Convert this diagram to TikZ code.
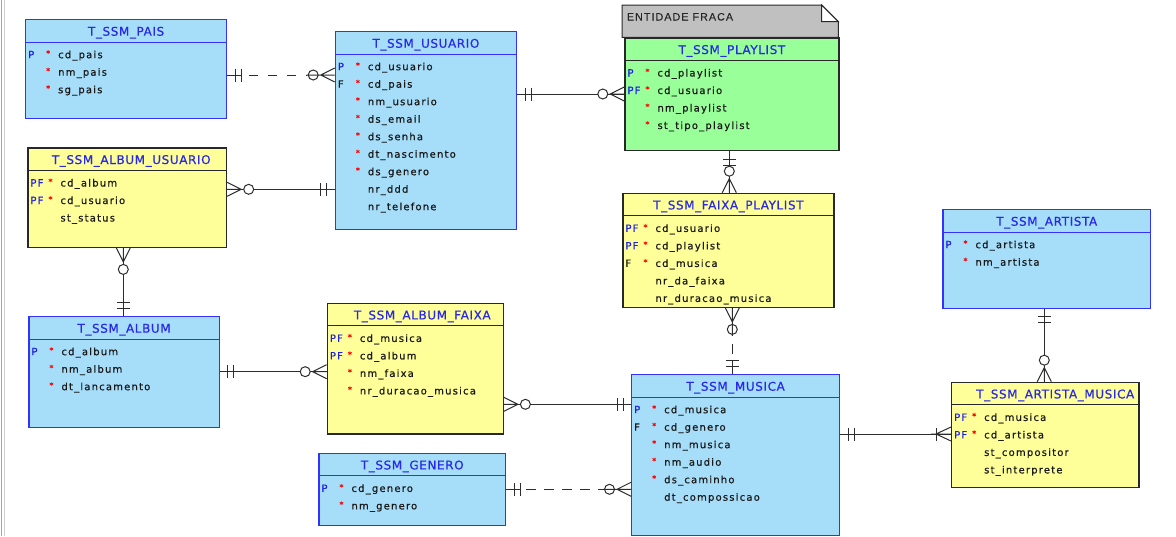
\documentclass[tikz,border=0pt]{standalone}
\usepackage{fontspec}
\usetikzlibrary{calc}
\newfontfamily\attrfont[LetterSpace=12,FakeBold=0.6]{DejaVu Sans}
\newfontfamily\titlefont[LetterSpace=5,FakeBold=0.5]{DejaVu Sans}
\newfontfamily\notefont[LetterSpace=10,FakeBold=0.3]{Liberation Sans}
\definecolor{entblue}{RGB}{166,222,250}
\definecolor{entblueline}{RGB}{50,50,255}
\definecolor{entyellow}{RGB}{255,255,153}
\definecolor{entgreen}{RGB}{153,255,153}
\definecolor{entdark}{RGB}{40,40,40}
\definecolor{titleblue}{RGB}{40,40,230}
\definecolor{keyblue}{RGB}{30,30,230}
\definecolor{notegrey}{RGB}{192,192,192}
\definecolor{txt}{RGB}{25,25,25}
\definecolor{linec}{RGB}{45,45,45}
\newcommand\kb[1]{{\color{keyblue}#1}}
\tikzset{
  eblue/.style={draw=entblueline, fill=entblue, line width=1.2pt, inner sep=0pt},
  eblue sep/.style={draw=entblueline, line width=1pt},
  eyellow/.style={draw=entdark, fill=entyellow, line width=1.2pt, inner sep=0pt},
  eyellow sep/.style={draw=entdark, line width=1pt},
  egreen/.style={draw=entdark, fill=entgreen, line width=1.2pt, inner sep=0pt},
  egreen sep/.style={draw=entdark, line width=1pt},
  titletext/.style={font=\titlefont\fontsize{12}{14}\selectfont, text=titleblue, inner sep=0pt, anchor=base},
  attrtext/.style={font=\attrfont\fontsize{10}{12}\selectfont, text=txt, inner sep=0pt, anchor=base west},
  startext/.style={font=\attrfont\fontsize{8}{10}\selectfont, text=red, inner sep=0pt, anchor=base west},
  notetext/.style={font=\notefont\fontsize{10.7}{12}\selectfont, text=black!85, inner sep=0pt, anchor=base west},
  conn/.style={draw=linec, line width=1pt},
  dashconn/.style={draw=linec, line width=1pt, dash pattern=on 9pt off 10pt, dash phase=11pt},
  pics/mandone/.style={code={
    \draw[conn] (0,0) -- (14,0);
    \draw[conn] (8,-6.5) -- (8,6.5) (14,-6.5) -- (14,6.5);
  }},
  pics/zm/.style={code={
    \draw[conn] (0,-7) -- (14,0) -- (0,7) (0,0) -- (14,0);
    \draw[conn, fill=white] (21.5,0) circle[radius=5];
  }},
  pics/zmd/.style={code={
    \draw[conn] (0,-7) -- (14,0) -- (0,7) (0,0) -- (28,0);
    \draw[conn] (21.5,0) circle[radius=5];
  }},
  pics/onemany/.style={code={
    \draw[conn] (0,-7) -- (15,0) -- (0,7) (0,0) -- (20,0);
    \draw[conn] (15,-6.5) -- (15,6.5);
  }},
}
% name, x1, y1, x2, y2, style, title, title dx
\newcommand\ent[8]{%
  \node[#6, anchor=north west, minimum width={#4-#2}, minimum height={#5-#3}] (#1) at (#2,#3) {};
  \draw[#6 sep] ($(#1.north west)+(0,23)$) -- ($(#1.north east)+(0,23)$);
  \node[titletext] (#1-title) at ($(#1.north)+(#8,16.7)$) {#7};
}
% entity, row, key, star, name
\newcommand\att[5]{%
  \node[attrtext] (#1-n#2) at ($(#1.north west)+(33,{39.2+17.5*#2})$) {#5};
  \node[attrtext] (#1-k#2) at ($(#1.north west)+(3,{39.2+17.5*#2})$) {#3};
  \ifnum#4=1 \node[startext] (#1-s#2) at ($(#1.north west)+(21,{37.2+17.5*#2})$) {*};\fi
}
\begin{document}
\begin{tikzpicture}[x=1pt, y=-1pt]
\useasboundingbox (0,0) rectangle (1176,536);
\fill[white] (0,0) rectangle (1176,536);
\draw[gray!70, line width=1pt] (1,0) -- (1,536);
\draw[gray!35, line width=1pt] (4.5,0) -- (4.5,536);

% note
\draw[draw=entdark, fill=notegrey, line width=1pt] (622,5) -- (821.7,5) -- (838.3,21.7) -- (838.3,37.3) -- (622,37.3) -- cycle;
\draw[draw=entdark, fill=white, line width=1pt] (821.7,5) -- (821.7,21.7) -- (838.3,21.7) -- cycle;
\node[notetext] (note) at (626.7,20.5) {ENTIDADE FRACA};

% entities
\ent{pais}{25}{19}{226}{118}{eblue}{T\_SSM\_PAIS}{0}
\ent{usuario}{334.7}{31}{516}{229}{eblue}{T\_SSM\_USUARIO}{0}
\ent{playlist}{624.3}{37.3}{838.3}{150}{egreen}{T\_SSM\_PLAYLIST}{0}
\ent{au}{27.3}{147.3}{226}{246.7}{eyellow}{T\_SSM\_ALBUM\_USUARIO}{4}
\ent{album}{28.3}{316}{218.7}{426.7}{eblue}{T\_SSM\_ALBUM}{0}
\ent{af}{326.7}{302.7}{502.7}{433.3}{eyellow}{T\_SSM\_ALBUM\_FAIXA}{7}
\ent{fp}{622.3}{192.7}{833.3}{306.7}{eyellow}{T\_SSM\_FAIXA\_PLAYLIST}{0}
\ent{musica}{631}{374}{839}{535}{eblue}{T\_SSM\_MUSICA}{0}
\ent{genero}{318.3}{452.7}{505}{525}{eblue}{T\_SSM\_GENERO}{0}
\ent{artista}{942.3}{209}{1150}{307.7}{eblue}{T\_SSM\_ARTISTA}{0}
\ent{am}{951}{381.7}{1138.3}{486.7}{eyellow}{T\_SSM\_ARTISTA\_MUSICA}{10}

% attributes
\att{pais}{0}{\kb{P}}{1}{cd\_pais}
\att{pais}{1}{}{1}{nm\_pais}
\att{pais}{2}{}{1}{sg\_pais}

\att{usuario}{0}{\kb{P}}{1}{cd\_usuario}
\att{usuario}{1}{F}{1}{cd\_pais}
\att{usuario}{2}{}{1}{nm\_usuario}
\att{usuario}{3}{}{1}{ds\_email}
\att{usuario}{4}{}{1}{ds\_senha}
\att{usuario}{5}{}{1}{dt\_nascimento}
\att{usuario}{6}{}{1}{ds\_genero}
\att{usuario}{7}{}{0}{nr\_ddd}
\att{usuario}{8}{}{0}{nr\_telefone}

\att{playlist}{0}{\kb{P}}{1}{cd\_playlist}
\att{playlist}{1}{\kb{PF}}{1}{cd\_usuario}
\att{playlist}{2}{}{1}{nm\_playlist}
\att{playlist}{3}{}{1}{st\_tipo\_playlist}

\att{au}{0}{\kb{PF}}{1}{cd\_album}
\att{au}{1}{\kb{PF}}{1}{cd\_usuario}
\att{au}{2}{}{0}{st\_status}

\att{album}{0}{\kb{P}}{1}{cd\_album}
\att{album}{1}{}{1}{nm\_album}
\att{album}{2}{}{1}{dt\_lancamento}

\att{af}{0}{\kb{PF}}{1}{cd\_musica}
\att{af}{1}{\kb{PF}}{1}{cd\_album}
\att{af}{2}{}{1}{nm\_faixa}
\att{af}{3}{}{1}{nr\_duracao\_musica}

\att{fp}{0}{\kb{PF}}{1}{cd\_usuario}
\att{fp}{1}{\kb{PF}}{1}{cd\_playlist}
\att{fp}{2}{F}{1}{cd\_musica}
\att{fp}{3}{}{0}{nr\_da\_faixa}
\att{fp}{4}{}{0}{nr\_duracao\_musica}

\att{musica}{0}{\kb{P}}{1}{cd\_musica}
\att{musica}{1}{F}{1}{cd\_genero}
\att{musica}{2}{}{1}{nm\_musica}
\att{musica}{3}{}{1}{nm\_audio}
\att{musica}{4}{}{1}{ds\_caminho}
\att{musica}{5}{}{0}{dt\_compossicao}

\att{genero}{0}{\kb{P}}{1}{cd\_genero}
\att{genero}{1}{}{1}{nm\_genero}

\att{artista}{0}{\kb{P}}{1}{cd\_artista}
\att{artista}{1}{}{1}{nm\_artista}

\att{am}{0}{\kb{PF}}{1}{cd\_musica}
\att{am}{1}{\kb{PF}}{1}{cd\_artista}
\att{am}{2}{}{0}{st\_compositor}
\att{am}{3}{}{0}{st\_interprete}

% connector end points
\coordinate (c1a) at ($(pais.north east)+(0,56)$);
\coordinate (c1b) at (usuario.west |- c1a);
\coordinate (c2a) at ($(usuario.north east)+(0,63)$);
\coordinate (c2b) at (playlist.west |- c2a);
\coordinate (c3a) at ($(au.north east)+(0,42)$);
\coordinate (c3b) at (usuario.west |- c3a);
\coordinate (c4a) at ($(au.south west)+(96,0)$);
\coordinate (c4b) at (c4a |- album.north);
\coordinate (c5a) at ($(album.north east)+(0,55.7)$);
\coordinate (c5b) at (af.west |- c5a);
\coordinate (c6a) at ($(af.north east)+(0,101.6)$);
\coordinate (c6b) at (musica.west |- c6a);
\coordinate (c7a) at ($(genero.north east)+(0,36.6)$);
\coordinate (c7b) at (musica.west |- c7a);
\coordinate (c8a) at ($(playlist.south west)+(105,0)$);
\coordinate (c8b) at (c8a |- fp.north);
\coordinate (c9a) at ($(fp.south west)+(110,0)$);
\coordinate (c9b) at (c9a |- musica.north);
\coordinate (c10a) at ($(musica.north east)+(0,60)$);
\coordinate (c10b) at (am.west |- c10a);
\coordinate (c11a) at ($(artista.south west)+(102,0)$);
\coordinate (c11b) at (c11a |- am.north);

% connectors
\draw[dashconn] ($(c1a)+(14,0)$) -- ($(c1b)+(-28,0)$);
\pic at (c1a) {mandone};
\pic[rotate=180] at (c1b) {zmd};

\draw[conn] (c2a) -- (c2b);
\pic at (c2a) {mandone};
\pic[rotate=180] at (c2b) {zm};

\draw[conn] (c3a) -- (c3b);
\pic at (c3a) {zm};
\pic[rotate=180] at (c3b) {mandone};

\draw[conn] (c4a) -- (c4b);
\pic[rotate=-90] at (c4a) {zm};
\pic[rotate=90] at (c4b) {mandone};

\draw[conn] (c5a) -- (c5b);
\pic at (c5a) {mandone};
\pic[rotate=180] at (c5b) {zm};

\draw[conn] (c6a) -- (c6b);
\pic at (c6a) {zm};
\pic[rotate=180] at (c6b) {mandone};

\draw[dashconn, dash pattern=on 10pt off 8pt, dash phase=12pt] ($(c7a)+(14,0)$) -- ($(c7b)+(-28,0)$);
\pic at (c7a) {mandone};
\pic[rotate=180] at (c7b) {zmd};

\draw[conn] (c8a) -- (c8b);
\pic[rotate=-90] at (c8a) {mandone};
\pic[rotate=90] at (c8b) {zm};

\draw[dashconn, dash pattern=on 10pt off 8pt, dash phase=-8pt] ($(c9a)+(0,28)$) -- ($(c9b)+(0,-14)$);
\pic[rotate=-90] at (c9a) {zmd};
\pic[rotate=90] at (c9b) {mandone};

\draw[conn] (c10a) -- (c10b);
\pic at (c10a) {mandone};
\pic[rotate=180] at (c10b) {onemany};

\draw[conn] (c11a) -- (c11b);
\pic[rotate=-90] at (c11a) {mandone};
\pic[rotate=90] at (c11b) {zm};
\end{tikzpicture}
\end{document}
